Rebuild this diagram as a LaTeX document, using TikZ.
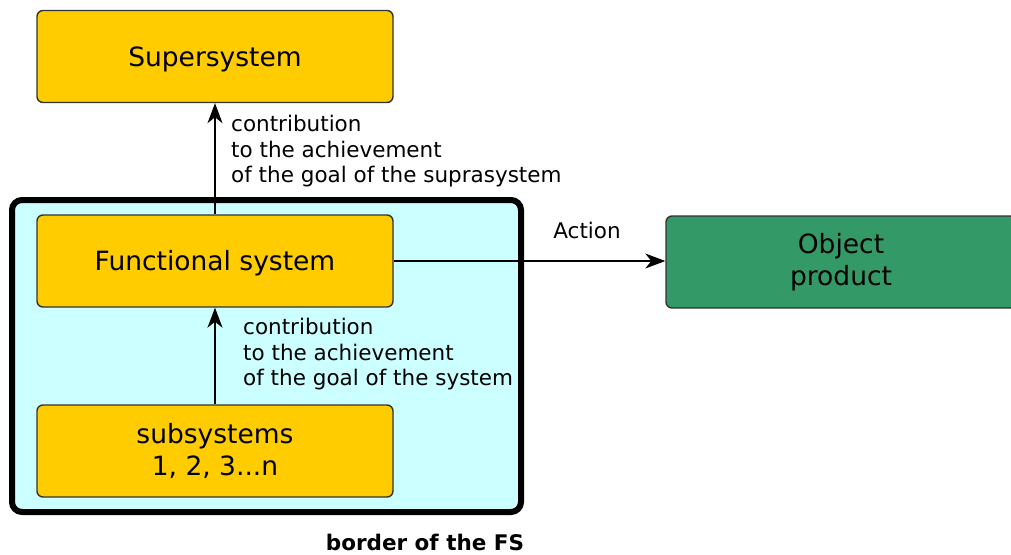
\documentclass[tikz,border=0pt]{standalone}
\usepackage{fontspec}
\setmainfont{DejaVu Sans}
\usetikzlibrary{arrows.meta}
\definecolor{boxyellow}{HTML}{FFCC00}
\definecolor{fscyan}{HTML}{CCFFFF}
\definecolor{objgreen}{HTML}{339966}
\definecolor{edgegray}{HTML}{333333}
\begin{document}
\begin{tikzpicture}[x=1pt,y=-1pt,
  sysbox/.style={draw=edgegray, line width=1.4pt, rounded corners=6pt, fill=boxyellow,
    minimum width=356pt, minimum height=92pt, inner sep=0pt, align=center,
    font=\fontsize{26.5}{32.5}\selectfont},
  oneline/.style={text height=19.5pt, text depth=0pt},
  objbox/.style={sysbox, fill=objgreen, minimum width=350pt},
  conn/.style={line width=1.5pt, draw=black, -{Stealth[length=20pt,width=15pt,inset=6pt]}},
  lbl/.style={align=left, anchor=north west, inner sep=0pt,
    font=\fontsize{21.5}{25.7}\selectfont}]
\useasboundingbox (0,0) rectangle (1011,554);
% border of the FS
\draw[line width=6pt, rounded corners=10pt, fill=fscyan] (12,200) rectangle (521,512);
\node[sysbox, oneline] (super) at (215,56.5) {Supersystem};
\node[sysbox, oneline] (fs) at (215,261) {Functional system};
\node[sysbox] (sub) at (215,451) {subsystems\\1, 2, 3...n};
\node[objbox] (obj) at (841,262) {Object\\product};
\draw[conn] (fs.north) -- (super.south);
\draw[conn] (sub.north) -- (fs.south);
\draw[conn] (fs.east) -- (obj.west |- fs.east);
\node[lbl] (l1) at (231,115) {contribution\\to the achievement\\of the goal of the suprasystem};
\node[lbl] (l2) at (243,318) {contribution\\to the achievement\\of the goal of the system};
\node[inner sep=0pt, font=\fontsize{21.5}{24}\selectfont] (act) at (587,230) {Action};
\node[inner sep=0pt, font=\bfseries\fontsize{21.5}{24}\selectfont] (border) at (425,542) {border of the FS};
\end{tikzpicture}
\end{document}
